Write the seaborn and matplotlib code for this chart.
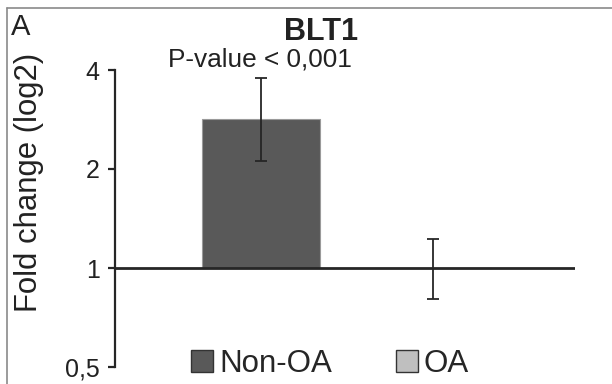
import numpy as np
import pandas as pd
import matplotlib
matplotlib.use("Agg")
import matplotlib.pyplot as plt
from matplotlib.patches import Patch
from matplotlib.lines import Line2D
import seaborn as sns

# ── Data (fold change) ──────────────────────────────────────────────────────
groups = ["Non-OA", "OA"]
fold_change = [2.84, 1.0]
err_low = [2.12, 0.805]
err_high = [3.78, 1.225]
tick_values = [0.5, 1, 2, 4]
tick_labels = ["0,5", "1", "2", "4"]
bar_colors = ["#595959", "#bfbfbf"]

sns.set_theme(style="white")
plt.rcParams["font.family"] = ["Liberation Sans", "DejaVu Sans"]

df = pd.DataFrame({"group": groups, "log2fc": np.log2(fold_change)})

fig = plt.figure(figsize=(6.12, 3.84), dpi=100)
ax = fig.add_axes([115 / 612, 1 - 367 / 384, 460 / 612, 297 / 384])

sns.barplot(
    data=df, x="group", y="log2fc", hue="group", palette=bar_colors,
    width=0.686, errorbar=None, legend=False, ax=ax,
    edgecolor="#9a9a9a", linewidth=0.8,
)

# error bars on the log2 scale
fc = np.log2(fold_change)
yerr = [fc - np.log2(err_low), np.log2(err_high) - fc]
ax.errorbar(range(len(groups)), fc, yerr=yerr, fmt="none",
            ecolor="#262626", elinewidth=1.3, capsize=4, capthick=1.3)

# baseline at fold change 1
ax.axhline(0, color="#262626", linewidth=2, zorder=4)

ax.set_xlim(-0.849, 1.826)
ax.set_ylim(-1, 2)
ax.set_yticks(np.log2(tick_values))
ax.set_yticklabels(tick_labels, fontsize=18, color="#222222")
ax.set_xticks([])
ax.set_xlabel("")
ax.set_ylabel("")
for s in ["top", "right", "bottom"]:
    ax.spines[s].set_visible(False)
ax.spines["left"].set_linewidth(1.6)
ax.spines["left"].set_color("#262626")
ax.tick_params(axis="y", left=True, length=5, width=1.6, color="#262626", pad=6)

# texts
fig.text(29 / 612, 1 - 182 / 384, "Fold change (log2)", rotation=90,
         ha="center", va="center", fontsize=22.4, color="#222222")
fig.text(321 / 612, 1 - 32 / 384, "BLT1", ha="center", va="center",
         fontsize=22, fontweight="bold", color="#222222")
fig.text(260 / 612, 1 - 60 / 384, "P-value < 0,001", ha="center", va="center",
         fontsize=18.9, color="#222222")
fig.text(11 / 612, 1 - 27 / 384, "A", ha="left", va="center",
         fontsize=21, color="#222222")

# legend
handles = [Patch(facecolor=c, edgecolor="#333333", linewidth=1) for c in bar_colors]
fig.legend(handles, groups, loc="center", bbox_to_anchor=(330 / 612, 1 - 364 / 384),
           ncol=2, frameon=False, fontsize=22.5, handlelength=0.7, handleheight=0.7,
           handletextpad=0.2, columnspacing=2.05, borderpad=0)

# panel frame (top and left edges only)
fig.add_artist(Line2D([7 / 612, 1], [1 - 8 / 384, 1 - 8 / 384],
                      transform=fig.transFigure, color="#8a8a8a", lw=1.2))
fig.add_artist(Line2D([7 / 612, 7 / 612], [0, 1 - 8 / 384],
                      transform=fig.transFigure, color="#8a8a8a", lw=1.2))

fig.savefig("out.png", dpi=100)
